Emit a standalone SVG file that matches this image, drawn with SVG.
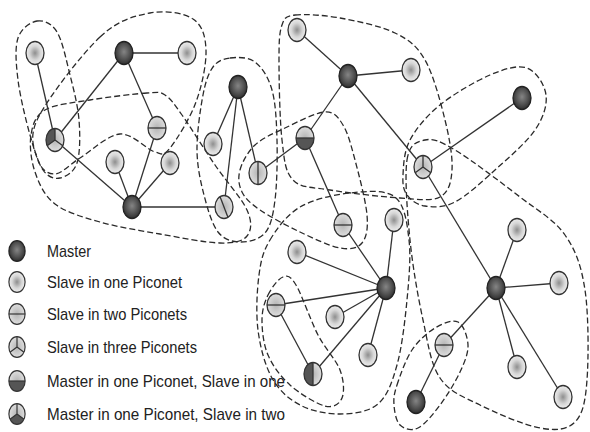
<svg xmlns="http://www.w3.org/2000/svg" xmlns:xlink="http://www.w3.org/1999/xlink" width="590" height="432" viewBox="0 0 590 432">
<defs>
<radialGradient id="gs" cx="50%" cy="50%" r="55%"><stop offset="0" stop-color="#8e8e8e"/><stop offset="0.55" stop-color="#d6d6d6"/><stop offset="1" stop-color="#f3f3f3"/></radialGradient>
<radialGradient id="gm" cx="50%" cy="45%" r="55%"><stop offset="0" stop-color="#858585"/><stop offset="0.6" stop-color="#525252"/><stop offset="1" stop-color="#2e2e2e"/></radialGradient>
<radialGradient id="gt" cx="50%" cy="50%" r="55%"><stop offset="0" stop-color="#b4b4b4"/><stop offset="1" stop-color="#e2e2e2"/></radialGradient>
<g id="t-slave"><ellipse class="sl" rx="9" ry="11.5"/></g>
<g id="t-master"><ellipse class="ms" rx="9" ry="11.5"/></g>
<g id="t-two"><ellipse class="tw" rx="9" ry="11.5"/><line class="in" x1="-9" y1="0" x2="9" y2="0"/><ellipse class="ol" rx="9" ry="11.5"/></g>
<g id="t-twov"><ellipse class="tw" rx="9" ry="11.5"/><line class="in" x1="0" y1="-11.5" x2="0" y2="11.5"/><ellipse class="ol" rx="9" ry="11.5"/></g>
<g id="t-twod"><ellipse class="tw" rx="9" ry="11.5"/><line class="in" x1="-4" y1="-10.5" x2="4" y2="10.5"/><ellipse class="ol" rx="9" ry="11.5"/></g>
<g id="t-three"><ellipse class="tw" rx="9" ry="11.5"/><path class="in" d="M0,0 V-11.5 M0,0 L-7.79,5.75 M0,0 L7.79,5.75"/><ellipse class="ol" rx="9" ry="11.5"/></g>
<g id="t-msone"><ellipse class="tw" rx="9" ry="11.5"/><path class="dk" d="M-9,0 A9,11.5 0 0 0 9,0 Z"/><line class="in" x1="-9" y1="0" x2="9" y2="0"/><ellipse class="ol" rx="9" ry="11.5"/></g>
<g id="t-msonev"><ellipse class="tw" rx="9" ry="11.5"/><path class="dk" d="M0,-11.5 A9,11.5 0 0 0 0,11.5 Z"/><line class="in" x1="0" y1="-11.5" x2="0" y2="11.5"/><ellipse class="ol" rx="9" ry="11.5"/></g>
<g id="t-mstwo"><ellipse class="tw" rx="9" ry="11.5"/><path class="dk" d="M0,0 L-7.79,5.75 A9,11.5 0 0 0 7.79,5.75 Z"/><path class="in" d="M0,0 V-11.5 M0,0 L-7.79,5.75 M0,0 L7.79,5.75"/><ellipse class="ol" rx="9" ry="11.5"/></g>
<g id="t-mstwol"><ellipse class="tw" rx="9" ry="11.5"/><path class="dk" d="M0,0 L-7.79,5.75 A9,11.5 0 0 1 0,-11.5 Z"/><path class="in" d="M0,0 V-11.5 M0,0 L-7.79,5.75 M0,0 L7.79,5.75"/><ellipse class="ol" rx="9" ry="11.5"/></g>
</defs>
<style>
.sl{fill:url(#gs);stroke:#333;stroke-width:1.3}
.ms{fill:url(#gm);stroke:#222;stroke-width:1.3}
.tw{fill:url(#gt);stroke:none}
.dk{fill:#555;stroke:none}
.in{stroke:#333;stroke-width:1.3;fill:none}
.ol{fill:none;stroke:#333;stroke-width:1.3}
.edge{stroke:#333;stroke-width:1.3}
.loop{fill:none;stroke:#2a2a2a;stroke-width:1.3;stroke-dasharray:6 3}
.lbl{font-family:"Liberation Sans",Arial,sans-serif;font-size:17px;fill:#222}
</style>
<rect width="590" height="432" fill="#fff"/>
<g id="piconets">
<path class="loop" d="M37,21 C43.5,20 51.5,23 57,32 C62.5,41 66.3,60.3 70,75 C73.7,89.7 77.8,105.3 79,120 C80.2,134.7 80.2,153.3 77,163 C73.8,172.7 65.7,176.8 60,178 C54.3,179.2 48,177.2 43,170 C38,162.8 34.2,150 30,135 C25.8,120 20,96.2 18,80 C16,63.8 14.8,47.8 18,38 C21.2,28.2 30.5,22 37,21 Z"/>
<path class="loop" d="M100,37 C118.67,19.5 134.5,16 150,13 C165.5,10 183.67,12.83 193,19 C202.33,25.17 205.5,36.17 206,50 C206.5,63.83 202,85.67 196,102 C190,118.33 176.83,139.67 170,148 C163.17,156.33 163.33,154.33 155,152 C146.67,149.67 132.5,133 120,134 C107.5,135 90.83,151.33 80,158 C69.17,164.67 62,173.67 55,174 C48,174.33 40.83,169.33 38,160 C35.17,150.67 27.67,138.5 38,118 C48.33,97.5 81.33,54.5 100,37 Z"/>
<path class="loop" d="M147,93 C134.5,93.83 107,97.17 90,100 C73,102.83 54.83,104.17 45,110 C35.17,115.83 32.67,124.67 31,135 C29.33,145.33 31,160.5 35,172 C39,183.5 44.17,195.67 55,204 C65.83,212.33 82.5,217 100,222 C117.5,227 140,230.5 160,234 C180,237.5 205.5,242.67 220,243 C234.5,243.33 242.5,241.5 247,236 C251.5,230.5 252.33,221.83 247,210 C241.67,198.17 225.83,180.83 215,165 C204.17,149.17 190.33,126.67 182,115 C173.67,103.33 170.83,98.67 165,95 C159.17,91.33 159.5,92.17 147,93 Z"/>
<path class="loop" d="M230,58 C237,57.17 248,56.67 255,62 C262,67.33 268.33,77 272,90 C275.67,103 276.5,121.67 277,140 C277.5,158.33 277,184.5 275,200 C273,215.5 270.83,226 265,233 C259.17,240 247.83,242.17 240,242 C232.17,241.83 224,239.83 218,232 C212,224.17 207.5,208.67 204,195 C200.5,181.33 197.17,166.67 197,150 C196.83,133.33 200.33,108.83 203,95 C205.67,81.17 208.5,73.17 213,67 C217.5,60.83 223,58.83 230,58 Z"/>
<path class="loop" d="M240,170 C242.17,162.17 247.5,152 255,145 C262.5,138 273.33,133.5 285,128 C296.67,122.5 315.33,112.5 325,112 C334.67,111.5 338,117 343,125 C348,133 351,145 355,160 C359,175 365.83,201.17 367,215 C368.17,228.83 366.5,237.5 362,243 C357.5,248.5 350.33,249.83 340,248 C329.67,246.17 313.33,238.33 300,232 C286.67,225.67 269.67,216.67 260,210 C250.33,203.33 245.33,198.67 242,192 C238.67,185.33 237.83,177.83 240,170 Z"/>
<path class="loop" d="M295,15 C304.67,13.83 323.33,15 340,18 C356.67,21 380.83,26 395,33 C409.17,40 416.67,45.5 425,60 C433.33,74.5 440.5,101.67 445,120 C449.5,138.33 452.83,157.17 452,170 C451.17,182.83 448.67,192.33 440,197 C431.33,201.67 418.33,199.17 400,198 C381.67,196.83 347.83,193 330,190 C312.17,187 301,188.33 293,180 C285,171.67 284.33,160 282,140 C279.67,120 279,79.17 279,60 C279,40.83 279.33,32.5 282,25 C284.67,17.5 285.33,16.17 295,15 Z"/>
<path class="loop" d="M403,175 C403.5,165.83 403.83,151.67 410,140 C416.17,128.33 426.67,115.83 440,105 C453.33,94.17 475.5,81.17 490,75 C504.5,68.83 517.67,64.67 527,68 C536.33,71.33 544.67,84.67 546,95 C547.33,105.33 543.5,117.5 535,130 C526.5,142.5 508.33,158 495,170 C481.67,182 466.67,196 455,202 C443.33,208 433,207.17 425,206 C417,204.83 410.67,200.17 407,195 C403.33,189.83 402.5,184.17 403,175 Z"/>
<path class="loop" d="M270,240 C276.83,228.67 286.67,214.83 300,207 C313.33,199.17 334.17,194.67 350,193 C365.83,191.33 385.17,189.17 395,197 C404.83,204.83 407,222.83 409,240 C411,257.17 409,279.17 407,300 C405,320.83 401.83,347.67 397,365 C392.17,382.33 387.5,395.83 378,404 C368.5,412.17 353,413.83 340,414 C327,414.17 311.33,411 300,405 C288.67,399 279,390.5 272,378 C265,365.5 260.17,347.17 258,330 C255.83,312.83 257,290 259,275 C261,260 263.17,251.33 270,240 Z"/>
<path class="loop" d="M268,295 C271.5,287.83 278.33,278.67 283,277 C287.67,275.33 290.17,275.33 296,285 C301.83,294.67 310.67,320.83 318,335 C325.33,349.17 336,359.5 340,370 C344,380.5 344.5,392 342,398 C339.5,404 333.67,408.17 325,406 C316.33,403.83 299.5,393.5 290,385 C280.5,376.5 272.67,365.83 268,355 C263.33,344.17 262,330 262,320 C262,310 264.5,302.17 268,295 Z"/>
<path class="loop" d="M407,160 C409.5,143.33 417,141.67 425,140 C433,138.33 439.17,140.5 455,150 C470.83,159.5 501.67,182.83 520,197 C538.33,211.17 554.17,219.5 565,235 C575.83,250.5 581.33,265.83 585,290 C588.67,314.17 588.67,358 587,380 C585.33,402 582.83,414 575,422 C567.17,430 555.83,430.83 540,428 C524.17,425.17 496.67,413.33 480,405 C463.33,396.67 449.5,392.17 440,378 C430.5,363.83 428,343 423,320 C418,297 412.67,266.67 410,240 C407.33,213.33 404.5,176.67 407,160 Z"/>
<path class="loop" d="M397,385 C400,375.83 405.67,359.5 412,350 C418.33,340.5 427.33,332.67 435,328 C442.67,323.33 452.5,319.17 458,322 C463.5,324.83 467.67,336.67 468,345 C468.33,353.33 464.67,362 460,372 C455.33,382 447,395.67 440,405 C433,414.33 424.67,424.67 418,428 C411.33,431.33 404,428.83 400,425 C396,421.17 394.5,411.67 394,405 C393.5,398.33 394,394.17 397,385 Z"/>
</g>
<g id="connectors">
<line class="edge" x1="35" y1="53" x2="55" y2="140"/>
<line class="edge" x1="124" y1="53" x2="187" y2="53"/>
<line class="edge" x1="124" y1="53" x2="55" y2="140"/>
<line class="edge" x1="124" y1="53" x2="157" y2="128"/>
<line class="edge" x1="55" y1="140" x2="132" y2="207"/>
<line class="edge" x1="157" y1="128" x2="132" y2="207"/>
<line class="edge" x1="115" y1="162" x2="132" y2="207"/>
<line class="edge" x1="170" y1="163" x2="132" y2="207"/>
<line class="edge" x1="132" y1="207" x2="224" y2="207"/>
<line class="edge" x1="238" y1="87" x2="213" y2="144"/>
<line class="edge" x1="238" y1="87" x2="224" y2="207"/>
<line class="edge" x1="238" y1="87" x2="258" y2="173"/>
<line class="edge" x1="258" y1="173" x2="305" y2="138"/>
<line class="edge" x1="305" y1="138" x2="348" y2="76"/>
<line class="edge" x1="297" y1="30" x2="348" y2="76"/>
<line class="edge" x1="348" y1="76" x2="411" y2="70"/>
<line class="edge" x1="348" y1="76" x2="423" y2="167"/>
<line class="edge" x1="423" y1="167" x2="522" y2="98"/>
<line class="edge" x1="423" y1="167" x2="496" y2="288"/>
<line class="edge" x1="305" y1="138" x2="343" y2="225"/>
<line class="edge" x1="343" y1="225" x2="386" y2="288"/>
<line class="edge" x1="394" y1="220" x2="386" y2="288"/>
<line class="edge" x1="297" y1="252" x2="386" y2="288"/>
<line class="edge" x1="276" y1="305" x2="386" y2="288"/>
<line class="edge" x1="335" y1="317" x2="386" y2="288"/>
<line class="edge" x1="368" y1="355" x2="386" y2="288"/>
<line class="edge" x1="313" y1="374" x2="386" y2="288"/>
<line class="edge" x1="276" y1="305" x2="313" y2="374"/>
<line class="edge" x1="496" y1="288" x2="517" y2="230"/>
<line class="edge" x1="496" y1="288" x2="559" y2="283"/>
<line class="edge" x1="496" y1="288" x2="517" y2="367"/>
<line class="edge" x1="496" y1="288" x2="563" y2="397"/>
<line class="edge" x1="496" y1="288" x2="444" y2="345"/>
<line class="edge" x1="444" y1="345" x2="416" y2="402"/>
</g>
<g id="n1" transform="translate(35,53)"><use href="#t-slave"/></g>
<g id="n2" transform="translate(124,53)"><use href="#t-master"/></g>
<g id="n3" transform="translate(187,53)"><use href="#t-slave"/></g>
<g id="n4" transform="translate(55,140)"><use href="#t-mstwol"/></g>
<g id="n5" transform="translate(157,128)"><use href="#t-two"/></g>
<g id="n6" transform="translate(115,162)"><use href="#t-slave"/></g>
<g id="n7" transform="translate(170,163)"><use href="#t-slave"/></g>
<g id="n8" transform="translate(132,207)"><use href="#t-master"/></g>
<g id="n9" transform="translate(224,207)"><use href="#t-twod"/></g>
<g id="n10" transform="translate(238,87)"><use href="#t-master"/></g>
<g id="n11" transform="translate(213,144)"><use href="#t-slave"/></g>
<g id="n12" transform="translate(258,173)"><use href="#t-twov"/></g>
<g id="n13" transform="translate(305,138)"><use href="#t-msone"/></g>
<g id="n14" transform="translate(297,30)"><use href="#t-slave"/></g>
<g id="n15" transform="translate(348,76)"><use href="#t-master"/></g>
<g id="n16" transform="translate(411,70)"><use href="#t-slave"/></g>
<g id="n17" transform="translate(522,98)"><use href="#t-master"/></g>
<g id="n18" transform="translate(423,167)"><use href="#t-three"/></g>
<g id="n19" transform="translate(343,225)"><use href="#t-two"/></g>
<g id="n20" transform="translate(394,220)"><use href="#t-slave"/></g>
<g id="n21" transform="translate(297,252)"><use href="#t-slave"/></g>
<g id="n22" transform="translate(386,288)"><use href="#t-master"/></g>
<g id="n23" transform="translate(276,305)"><use href="#t-two"/></g>
<g id="n24" transform="translate(335,317)"><use href="#t-slave"/></g>
<g id="n25" transform="translate(368,355)"><use href="#t-slave"/></g>
<g id="n26" transform="translate(313,374)"><use href="#t-msonev"/></g>
<g id="n27" transform="translate(444,345)"><use href="#t-two"/></g>
<g id="n28" transform="translate(416,402)"><use href="#t-master"/></g>
<g id="n29" transform="translate(496,288)"><use href="#t-master"/></g>
<g id="n30" transform="translate(517,230)"><use href="#t-slave"/></g>
<g id="n31" transform="translate(559,283)"><use href="#t-slave"/></g>
<g id="n32" transform="translate(517,367)"><use href="#t-slave"/></g>
<g id="n33" transform="translate(563,397)"><use href="#t-slave"/></g>
<g id="legend">
<g transform="translate(17,251) scale(0.9)"><use href="#t-master"/></g>
<g transform="translate(17,282) scale(0.9)"><use href="#t-slave"/></g>
<g transform="translate(17,314) scale(0.9)"><use href="#t-two"/></g>
<g transform="translate(17,347) scale(0.9)"><use href="#t-three"/></g>
<g transform="translate(17,381) scale(0.9)"><use href="#t-msone"/></g>
<g transform="translate(17,414) scale(0.9)"><use href="#t-mstwo"/></g>
<text class="lbl" x="47" y="257" textLength="44" lengthAdjust="spacingAndGlyphs">Master</text>
<text class="lbl" x="47" y="288" textLength="135" lengthAdjust="spacingAndGlyphs">Slave in one Piconet</text>
<text class="lbl" x="47" y="320" textLength="140" lengthAdjust="spacingAndGlyphs">Slave in two Piconets</text>
<text class="lbl" x="47" y="353" textLength="150" lengthAdjust="spacingAndGlyphs">Slave in three Piconets</text>
<text class="lbl" x="47" y="387" textLength="238" lengthAdjust="spacingAndGlyphs">Master in one Piconet, Slave in one</text>
<text class="lbl" x="47" y="420" textLength="238" lengthAdjust="spacingAndGlyphs">Master in one Piconet, Slave in two</text>
</g>
</svg>
